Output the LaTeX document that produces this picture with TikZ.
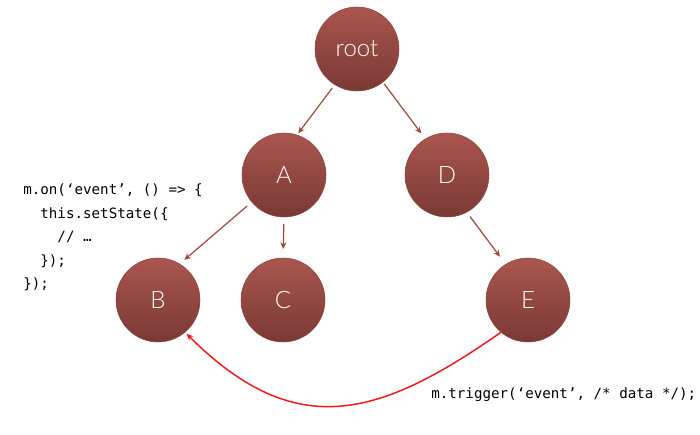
\documentclass[tikz,border=0pt]{standalone}
\usepackage{fontspec}
\usepackage{xcolor}
\usetikzlibrary{arrows.meta}
\newfontfamily\nodefont{Lato Light}
\newfontfamily\codefont{DejaVu Sans Mono}

\definecolor{nodetop}{HTML}{AA564F}
\definecolor{nodebot}{HTML}{7A3934}
\definecolor{nodeline}{HTML}{8C423C}
\definecolor{edgecol}{HTML}{A0463F}
\definecolor{linkred}{HTML}{F01818}

\tikzset{
  treenode/.style={circle, minimum size=63pt, inner sep=0pt, top color=nodetop, bottom color=nodebot,
    draw=nodeline, line width=0.4pt, text=white, font=\nodefont\fontsize{18}{18}\selectfont},
  edge/.style={-{Stealth[length=5pt,width=4.5pt]}, edgecol, line width=0.9pt},
  triggerlink/.style={-{Stealth[length=5pt,width=4.5pt]}, linkred, line width=1.1pt},
  codetext/.style={anchor=base west, inner sep=0pt, font=\codefont\fontsize{10.65}{12}\selectfont}
}

\begin{document}
\begin{tikzpicture}[x=0.75pt,y=-0.75pt]
  \useasboundingbox (0,0) rectangle (700,435);

  % Tree
  \node[treenode] (root) at (357,49) {root};
  \node[treenode] (A) at (284,175) {A};
  \node[treenode] (D) at (447,175) {D};
  \node[treenode] (B) at (158,300) {B};
  \node[treenode] (C) at (283,300) {C};
  \node[treenode] (E) at (528,300) {E};

  % Parent -> child
  \draw[edge, shorten <=3pt, shorten >=1.5pt] (root.238) -- (A.72);
  \draw[edge, shorten <=1.5pt, shorten >=5pt] (root.308) -- (D.121);
  \draw[edge, shorten <=4.5pt, shorten >=4.5pt] (A.220) -- (B.59);
  \draw[edge, shorten <=5pt, shorten >=6.5pt] (A.south) -- (C.north);
  \draw[edge, shorten <=4pt, shorten >=7pt] (D.298) -- (E.122);

  % Event from E back to B
  \draw[triggerlink, shorten >=1.5pt] (E.230) .. controls (381,416) and (297,444) .. (B.310);

  % Code
  \node[codetext] (code1) at (23,194) {m.on(‘event’, () => \{};
  \node[codetext] (code2) at (23,218) {\ \ this.setState(\{};
  \node[codetext] (code3) at (23,241) {\ \ \ \ // …};
  \node[codetext] (code4) at (23,265) {\ \ \});};
  \node[codetext] (code5) at (23,288) {\});};
  \node[codetext] (trig) at (431,398) {m.trigger(‘event’, /* data */);};
\end{tikzpicture}
\end{document}
